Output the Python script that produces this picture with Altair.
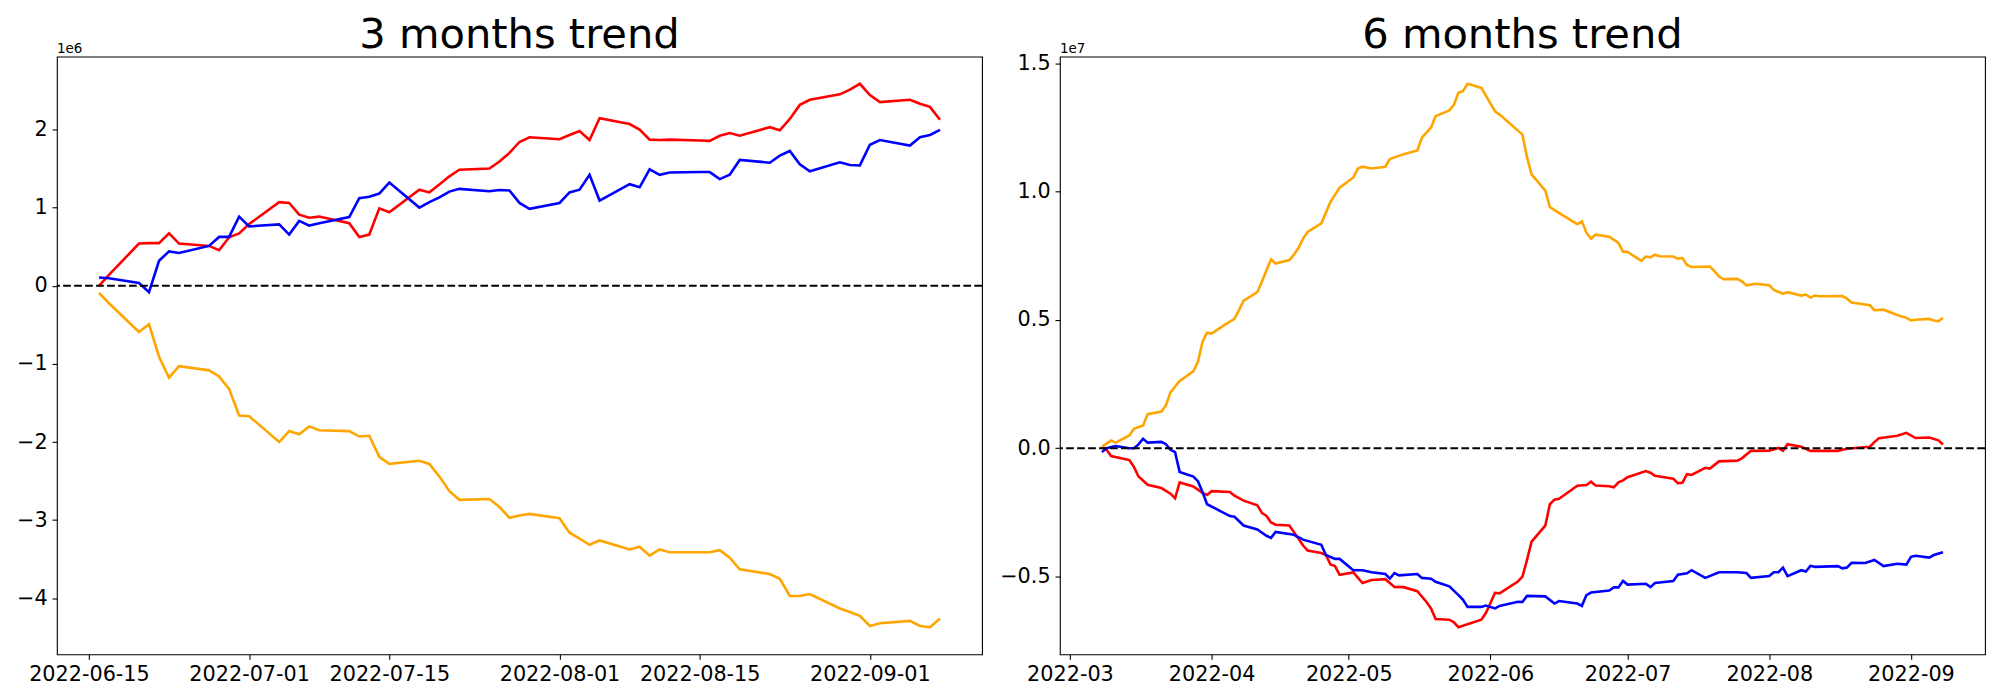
import altair as alt
import pandas as pd

# ---------------- 3 months trend (values in units of 1e6) ----------------
dates_3m = [
    "2022-06-16", "2022-06-17", "2022-06-20", "2022-06-21", "2022-06-22", "2022-06-23", "2022-06-24",
    "2022-06-27", "2022-06-28", "2022-06-29", "2022-06-30", "2022-07-01",
    "2022-07-04", "2022-07-05", "2022-07-06", "2022-07-07", "2022-07-08",
    "2022-07-11", "2022-07-12", "2022-07-13", "2022-07-14", "2022-07-15",
    "2022-07-18", "2022-07-19", "2022-07-20", "2022-07-21", "2022-07-22",
    "2022-07-25", "2022-07-26", "2022-07-27", "2022-07-28", "2022-07-29",
    "2022-08-01", "2022-08-02", "2022-08-03", "2022-08-04", "2022-08-05",
    "2022-08-08", "2022-08-09", "2022-08-10", "2022-08-11", "2022-08-12",
    "2022-08-15", "2022-08-16", "2022-08-17", "2022-08-18", "2022-08-19",
    "2022-08-22", "2022-08-23", "2022-08-24", "2022-08-25", "2022-08-26",
    "2022-08-29", "2022-08-30", "2022-08-31", "2022-09-01", "2022-09-02",
    "2022-09-05", "2022-09-06", "2022-09-07", "2022-09-08",
]
red_3m = [
    0.00, 0.14, 0.54, 0.545, 0.545, 0.67, 0.54,
    0.51, 0.455, 0.62, 0.67, 0.79,
    1.07, 1.06, 0.91, 0.87, 0.885,
    0.80, 0.625, 0.655, 0.99, 0.94,
    1.23, 1.195, 1.295, 1.40, 1.485,
    1.50, 1.59, 1.70, 1.84, 1.90,
    1.875, 1.93, 1.98, 1.865, 2.145,
    2.07, 2.00, 1.87, 1.865, 1.87,
    1.86, 1.855, 1.92, 1.955, 1.92,
    2.03, 1.99, 2.135, 2.315, 2.38,
    2.45, 2.51, 2.585, 2.44, 2.35,
    2.38, 2.33, 2.29, 2.125,
]
blue_3m = [
    0.106, 0.097, 0.035, -0.083, 0.32, 0.44, 0.42,
    0.51, 0.625, 0.625, 0.885, 0.76,
    0.785, 0.655, 0.83, 0.77, 0.80,
    0.88, 1.12, 1.14, 1.18, 1.32,
    1.00, 1.07, 1.13, 1.205, 1.24,
    1.21, 1.225, 1.22, 1.06, 0.985,
    1.06, 1.195, 1.23, 1.42, 1.09,
    1.30, 1.26, 1.49, 1.42, 1.45,
    1.455, 1.455, 1.365, 1.42, 1.61,
    1.575, 1.665, 1.725, 1.555, 1.465,
    1.58, 1.545, 1.54, 1.805, 1.865,
    1.795, 1.90, 1.93, 1.995,
]
orange_3m = [
    -0.092, -0.224, -0.592, -0.493, -0.908, -1.177, -1.03,
    -1.083, -1.16, -1.32, -1.66, -1.67,
    -2.00, -1.86, -1.90, -1.80, -1.85,
    -1.86, -1.93, -1.92, -2.19, -2.28,
    -2.24, -2.28, -2.44, -2.63, -2.74,
    -2.73, -2.83, -2.97, -2.94, -2.92,
    -2.975, -3.16, -3.235, -3.315, -3.26,
    -3.375, -3.34, -3.455, -3.375, -3.41,
    -3.41, -3.41, -3.385, -3.48, -3.63,
    -3.69, -3.75, -3.97, -3.97, -3.945,
    -4.13, -4.175, -4.225, -4.355, -4.32,
    -4.29, -4.355, -4.37, -4.26,
]

# ---------------- 6 months trend (values in units of 1e7) ----------------
orange_6m_dates = [
    "2022-03-08", "2022-03-10", "2022-03-11", "2022-03-14", "2022-03-15", "2022-03-17", "2022-03-18",
    "2022-03-21", "2022-03-22", "2022-03-23", "2022-03-25", "2022-03-28", "2022-03-29", "2022-03-30",
    "2022-03-31", "2022-04-01", "2022-04-04", "2022-04-06", "2022-04-07", "2022-04-08", "2022-04-11",
    "2022-04-12", "2022-04-13", "2022-04-14", "2022-04-15", "2022-04-18", "2022-04-19", "2022-04-20",
    "2022-04-21", "2022-04-22", "2022-04-25", "2022-04-27", "2022-04-29", "2022-05-02", "2022-05-03",
    "2022-05-04", "2022-05-06", "2022-05-09", "2022-05-10", "2022-05-13", "2022-05-16", "2022-05-17",
    "2022-05-19", "2022-05-20", "2022-05-23", "2022-05-24", "2022-05-25", "2022-05-26", "2022-05-27",
    "2022-05-30", "2022-06-02", "2022-06-03", "2022-06-08", "2022-06-09", "2022-06-10", "2022-06-13",
    "2022-06-14", "2022-06-15", "2022-06-20", "2022-06-21", "2022-06-22", "2022-06-23", "2022-06-24",
    "2022-06-27", "2022-06-29", "2022-06-30", "2022-07-01", "2022-07-04", "2022-07-05", "2022-07-06",
    "2022-07-07", "2022-07-08", "2022-07-11", "2022-07-12", "2022-07-13", "2022-07-14", "2022-07-15",
    "2022-07-19", "2022-07-20", "2022-07-21", "2022-07-22", "2022-07-25", "2022-07-26", "2022-07-27",
    "2022-07-29", "2022-08-01", "2022-08-02", "2022-08-04", "2022-08-05", "2022-08-08", "2022-08-09",
    "2022-08-10", "2022-08-11", "2022-08-12", "2022-08-17", "2022-08-18", "2022-08-19", "2022-08-23",
    "2022-08-24", "2022-08-26", "2022-08-29", "2022-08-31", "2022-09-01", "2022-09-02", "2022-09-05",
    "2022-09-06", "2022-09-07", "2022-09-08",
]
orange_6m = [
    0.006, 0.030, 0.022, 0.050, 0.076, 0.089, 0.133,
    0.143, 0.167, 0.218, 0.262, 0.300, 0.337, 0.414,
    0.450, 0.447, 0.483, 0.504, 0.538, 0.575, 0.608,
    0.650, 0.694, 0.736, 0.720, 0.733, 0.754, 0.780,
    0.817, 0.843, 0.876, 0.960, 1.015, 1.055, 1.090,
    1.097, 1.090, 1.097, 1.127, 1.146, 1.160, 1.210,
    1.250, 1.294, 1.316, 1.338, 1.385, 1.392, 1.420,
    1.404, 1.313, 1.300, 1.222, 1.134, 1.067, 1.004,
    0.940, 0.928, 0.873, 0.884, 0.840, 0.817, 0.832,
    0.824, 0.800, 0.766, 0.765, 0.730, 0.747, 0.744,
    0.754, 0.748, 0.747, 0.739, 0.741, 0.714, 0.706,
    0.708, 0.690, 0.669, 0.659, 0.660, 0.650, 0.635,
    0.641, 0.635, 0.617, 0.602, 0.608, 0.595, 0.599,
    0.587, 0.595, 0.592, 0.593, 0.583, 0.568, 0.557,
    0.538, 0.540, 0.519, 0.508, 0.498, 0.501, 0.504,
    0.498, 0.495, 0.508,
]

red_6m_dates = [
    "2022-03-08", "2022-03-09", "2022-03-10", "2022-03-14", "2022-03-15", "2022-03-16", "2022-03-18",
    "2022-03-21", "2022-03-23", "2022-03-24", "2022-03-25", "2022-03-28", "2022-03-30", "2022-03-31",
    "2022-04-01", "2022-04-05", "2022-04-06", "2022-04-08", "2022-04-11", "2022-04-12", "2022-04-13",
    "2022-04-14", "2022-04-15", "2022-04-18", "2022-04-20", "2022-04-21", "2022-04-22", "2022-04-25",
    "2022-04-26", "2022-04-27", "2022-04-28", "2022-04-29", "2022-05-02", "2022-05-04", "2022-05-06",
    "2022-05-09", "2022-05-11", "2022-05-13", "2022-05-16", "2022-05-18", "2022-05-19", "2022-05-20",
    "2022-05-23", "2022-05-24", "2022-05-25", "2022-05-30", "2022-05-31", "2022-06-02", "2022-06-03",
    "2022-06-07", "2022-06-08", "2022-06-09", "2022-06-10", "2022-06-13", "2022-06-14", "2022-06-15",
    "2022-06-16", "2022-06-20", "2022-06-22", "2022-06-23", "2022-06-24", "2022-06-27", "2022-06-28",
    "2022-06-29", "2022-06-30", "2022-07-01", "2022-07-05", "2022-07-06", "2022-07-07", "2022-07-08",
    "2022-07-11", "2022-07-12", "2022-07-13", "2022-07-14", "2022-07-15", "2022-07-18", "2022-07-19",
    "2022-07-21", "2022-07-25", "2022-07-26", "2022-07-28", "2022-08-01", "2022-08-03", "2022-08-04",
    "2022-08-05", "2022-08-08", "2022-08-10", "2022-08-16", "2022-08-18", "2022-08-23", "2022-08-24",
    "2022-08-25", "2022-08-29", "2022-08-31", "2022-09-02", "2022-09-05", "2022-09-07", "2022-09-08",
]
red_6m = [
    0.006, -0.006, -0.030, -0.046, -0.073, -0.110, -0.142,
    -0.155, -0.177, -0.195, -0.133, -0.149, -0.174, -0.182,
    -0.167, -0.170, -0.185, -0.204, -0.222, -0.252, -0.264,
    -0.289, -0.298, -0.301, -0.352, -0.379, -0.398, -0.408,
    -0.416, -0.453, -0.459, -0.493, -0.484, -0.525, -0.513,
    -0.510, -0.540, -0.541, -0.557, -0.599, -0.624, -0.665,
    -0.668, -0.678, -0.697, -0.668, -0.642, -0.563, -0.565,
    -0.519, -0.500, -0.435, -0.364, -0.301, -0.218, -0.200,
    -0.197, -0.146, -0.143, -0.130, -0.145, -0.148, -0.152,
    -0.133, -0.125, -0.113, -0.089, -0.095, -0.107, -0.110,
    -0.119, -0.136, -0.134, -0.101, -0.104, -0.076, -0.079,
    -0.051, -0.048, -0.039, -0.010, -0.009, 0.0015, -0.010,
    0.016, 0.006, -0.010, -0.010, -0.0015, 0.006, 0.024,
    0.039, 0.049, 0.060, 0.040, 0.042, 0.031, 0.015,
]

blue_6m_dates = [
    "2022-03-08", "2022-03-09", "2022-03-11", "2022-03-14", "2022-03-15", "2022-03-16", "2022-03-17",
    "2022-03-18", "2022-03-21", "2022-03-22", "2022-03-23", "2022-03-24", "2022-03-25", "2022-03-28",
    "2022-03-29", "2022-03-30", "2022-03-31", "2022-04-05", "2022-04-06", "2022-04-08", "2022-04-11",
    "2022-04-13", "2022-04-14", "2022-04-15", "2022-04-19", "2022-04-21", "2022-04-25", "2022-04-26",
    "2022-04-28", "2022-04-29", "2022-05-02", "2022-05-04", "2022-05-06", "2022-05-09", "2022-05-10",
    "2022-05-11", "2022-05-12", "2022-05-16", "2022-05-17", "2022-05-19", "2022-05-20", "2022-05-23",
    "2022-05-25", "2022-05-26", "2022-05-27", "2022-05-30", "2022-05-31", "2022-06-02", "2022-06-03",
    "2022-06-07", "2022-06-08", "2022-06-09", "2022-06-13", "2022-06-15", "2022-06-16", "2022-06-20",
    "2022-06-21", "2022-06-22", "2022-06-23", "2022-06-27", "2022-06-28", "2022-06-29", "2022-06-30",
    "2022-07-01", "2022-07-05", "2022-07-06", "2022-07-07", "2022-07-11", "2022-07-12", "2022-07-14",
    "2022-07-15", "2022-07-18", "2022-07-21", "2022-07-25", "2022-07-27", "2022-07-28", "2022-08-01",
    "2022-08-02", "2022-08-03", "2022-08-04", "2022-08-05", "2022-08-08", "2022-08-09", "2022-08-10",
    "2022-08-11", "2022-08-16", "2022-08-17", "2022-08-18", "2022-08-19", "2022-08-22", "2022-08-24",
    "2022-08-26", "2022-08-29", "2022-08-31", "2022-09-01", "2022-09-02", "2022-09-05", "2022-09-06",
    "2022-09-08",
]
blue_6m = [
    -0.015, 0.000, 0.009, 0.000, 0.000, 0.015, 0.037,
    0.022, 0.025, 0.016, -0.006, -0.015, -0.092, -0.110,
    -0.128, -0.170, -0.218, -0.264, -0.267, -0.301, -0.316,
    -0.341, -0.349, -0.326, -0.337, -0.356, -0.376, -0.416,
    -0.431, -0.431, -0.475, -0.475, -0.483, -0.490, -0.508,
    -0.486, -0.495, -0.490, -0.505, -0.508, -0.520, -0.538,
    -0.572, -0.590, -0.618, -0.618, -0.613, -0.624, -0.614,
    -0.598, -0.599, -0.575, -0.577, -0.605, -0.595, -0.605,
    -0.614, -0.572, -0.562, -0.554, -0.542, -0.542, -0.517,
    -0.531, -0.528, -0.541, -0.525, -0.517, -0.493, -0.487,
    -0.475, -0.505, -0.483, -0.483, -0.486, -0.505, -0.498,
    -0.483, -0.483, -0.465, -0.498, -0.475, -0.480, -0.458,
    -0.462, -0.459, -0.468, -0.465, -0.446, -0.447, -0.435,
    -0.459, -0.450, -0.453, -0.423, -0.419, -0.426, -0.416,
    -0.405,
]

SERIES = ["red", "blue", "orange"]
COLORS = ["#ff0000", "#0000ff", "#ffa500"]


def long_frame(dates, values, name):
    return pd.DataFrame({"date": dates, "value": values, "series": name})


df_3m = pd.concat([
    long_frame(dates_3m, red_3m, "red"),
    long_frame(dates_3m, blue_3m, "blue"),
    long_frame(dates_3m, orange_3m, "orange"),
], ignore_index=True)

df_6m = pd.concat([
    long_frame(red_6m_dates, red_6m, "red"),
    long_frame(blue_6m_dates, blue_6m, "blue"),
    long_frame(orange_6m_dates, orange_6m, "orange"),
], ignore_index=True)

FONT = "DejaVu Sans"
W, H = 927, 599


def dt(y, m, d, h=0, mi=0):
    return alt.DateTime(year=y, month=m, date=d, hours=h, minutes=mi, utc=True)


def panel(df, title, offset_label, xdomain, xticks, xfmt, ydomain, yticks, yfmt):
    x = alt.X("date:T",
              scale=alt.Scale(type="utc", domain=xdomain),
              axis=alt.Axis(values=xticks, labelExpr=f"utcFormat(datum.value, '{xfmt}')",
                            title=None, grid=False, domain=False,
                            labelFlush=False, labelOverlap=False))
    y = alt.Y("value:Q",
              scale=alt.Scale(domain=ydomain, nice=False, zero=False),
              axis=alt.Axis(values=yticks, format=yfmt, title=None, grid=False, domain=False))
    lines = alt.Chart(df).mark_line(strokeWidth=2.6, clip=True).encode(
        x=x, y=y,
        color=alt.Color("series:N", scale=alt.Scale(domain=SERIES, range=COLORS), legend=None),
    )
    zero = alt.Chart(pd.DataFrame({"v": [0]})).mark_rule(
        color="black", strokeWidth=2.08, strokeDash=[7.7, 3.3]
    ).encode(y=alt.Y("v:Q"))
    off = alt.Chart(pd.DataFrame({"t": [offset_label]})).mark_text(
        align="left", baseline="alphabetic", fontSize=13.5, font=FONT, color="black"
    ).encode(text="t:N", x=alt.value(0), y=alt.value(-4))
    ttl = alt.Chart(pd.DataFrame({"t": [title]})).mark_text(
        align="center", baseline="alphabetic", fontSize=41.7, font=FONT, color="black"
    ).encode(text="t:N", x=alt.value(W / 2), y=alt.value(-8.8))
    return alt.layer(lines, zero, off, ttl).properties(width=W, height=H)


left = panel(
    df_3m, "3 months trend", "1e6",
    [dt(2022, 6, 11, 19, 12), dt(2022, 9, 12, 4, 48)],
    [dt(2022, 6, 15), dt(2022, 7, 1), dt(2022, 7, 15), dt(2022, 8, 1), dt(2022, 8, 15), dt(2022, 9, 1)],
    "%Y-%m-%d",
    [-4.718, 2.933], [-4, -3, -2, -1, 0, 1, 2], "d",
)
right = panel(
    df_6m, "6 months trend", "1e7",
    [dt(2022, 2, 26, 19, 12), dt(2022, 9, 17, 4, 48)],
    [dt(2022, m, 1) for m in range(3, 10)],
    "%Y-%m",
    [-0.803, 1.526], [-0.5, 0.0, 0.5, 1.0, 1.5], ".1f",
)

chart = alt.hconcat(left, right, spacing=15).properties(
    padding={"left": 7, "top": 5, "right": 5, "bottom": 5}
).configure_view(
    stroke="black", strokeWidth=1.1
).configure_axis(
    labelFont=FONT, labelFontSize=20.8, labelColor="black",
    tickColor="black", tickWidth=1.1, tickSize=4.9, labelPadding=4.9,
)

chart.save("out.html", embed_options={"renderer": "svg", "actions": False})
